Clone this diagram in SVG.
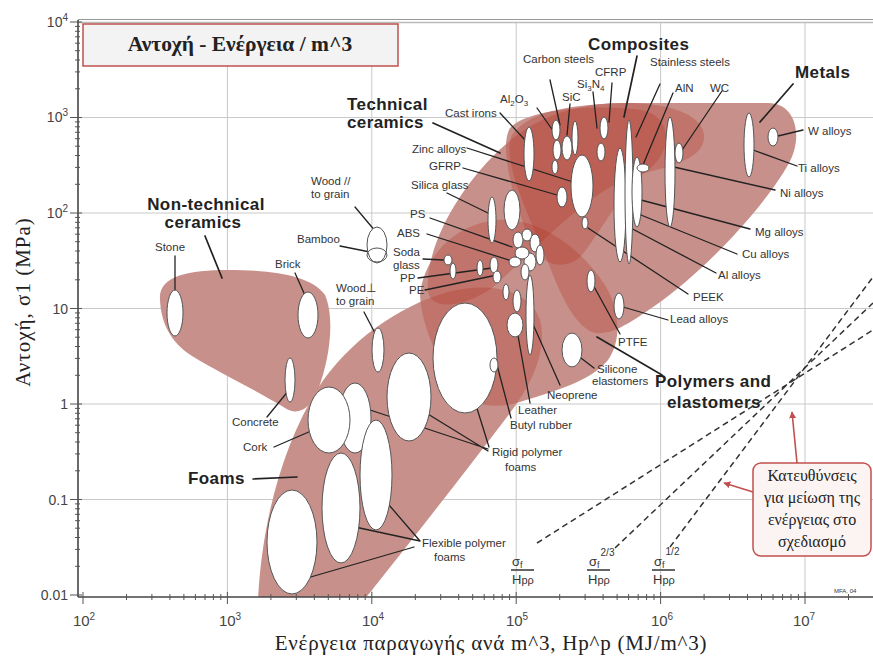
<svg xmlns="http://www.w3.org/2000/svg" width="873" height="657" viewBox="0 0 873 657">
<style>
  .grid{stroke:#c9c9c9;stroke-width:1;fill:none}
  .axis{stroke:#444;stroke-width:1.6;fill:none}
  .tick{stroke:#555;stroke-width:1;fill:none}
  .tl{font-family:"Liberation Sans",Arial,sans-serif;font-size:14px;fill:#444}
  .tx{font-family:"Liberation Sans",Arial,sans-serif;font-size:15px;fill:#444}
  .env{fill:#c8908a}
  .ovl{fill:#b03020;fill-opacity:0.29}
  .bub{fill:#fff;stroke:#555;stroke-width:1}
  .ld{stroke:#222;stroke-width:1.3;fill:none;stroke-linecap:round}
  .ldb{stroke:#222;stroke-width:1.7;fill:none;stroke-linecap:round}
  .lb{font-family:"Liberation Sans",Arial,sans-serif;font-size:11.5px;fill:#333}
  .tiny{font-family:"Liberation Sans",Arial,sans-serif;font-size:6px;fill:#333}
  .cat{font-family:"Liberation Sans",Arial,sans-serif;font-size:17px;font-weight:bold;letter-spacing:0.4px;fill:#222}
  .gr{font-family:"Liberation Serif","Times New Roman",serif;fill:#222}
  .dash{stroke:#333;stroke-width:1.5;stroke-dasharray:6 4;fill:none}
  .frac{font-family:"Liberation Sans",Arial,sans-serif;font-size:13px;fill:#333}
  .call{stroke:#c0504d;stroke-width:1.6;fill:none}
</style>
<defs>
  <clipPath id="plot"><rect x="78" y="20" width="795" height="577"/></clipPath>
  <path id="envNTC" d="M160,300 C158,276 188,270 228,270 C275,270 312,276 325,295 C335,318 330,358 318,390 C310,410 297,416 285,408 C256,390 218,372 192,356 C170,342 161,322 160,300 Z"/>
  <path id="envF" d="M258,600 C262,520 283,445 318,388 C348,342 398,306 448,292 C490,281 530,290 540,320 C548,350 532,385 507,417 C462,476 412,540 364,600 Z"/>
  <path id="envP" d="M420,295 C424,256 455,224 497,220 C542,217 582,250 605,285 C620,310 622,340 608,360 C590,382 552,392 520,402 C494,410 470,406 455,386 C440,362 422,330 420,295 Z"/>
  <path id="envTC" d="M428,292 C424,250 458,186 505,145 C535,118 572,104 620,103 C662,102 702,112 704,135 C706,158 672,166 640,174 C590,188 535,250 492,288 C466,306 432,312 428,292 Z"/>
  <path id="envM" d="M512,135 C530,110 575,103 640,103 L768,103 C797,103 803,138 789,163 C766,205 706,270 656,305 C630,323 612,335 596,333 C578,330 562,300 548,262 C532,222 500,160 512,135 Z"/>
  <path id="envCO" d="M510,128 C528,108 598,104 642,110 C672,117 674,150 648,170 C622,190 602,230 582,255 C566,272 540,266 530,242 C515,203 498,148 510,128 Z"/>
  <clipPath id="cF"><use href="#envF"/></clipPath>
  <clipPath id="cFP"><use href="#envF"/><use href="#envP"/></clipPath>
  <clipPath id="cFPT"><use href="#envF"/><use href="#envP"/><use href="#envTC"/></clipPath>
  <clipPath id="cFPTM"><use href="#envF"/><use href="#envP"/><use href="#envTC"/><use href="#envM"/></clipPath>
  <marker id="arr" viewBox="0 0 10 10" refX="9" refY="5" markerWidth="7" markerHeight="7" orient="auto-start-reverse" markerUnits="userSpaceOnUse">
    <path d="M0,0 L10,5 L0,10 Z" fill="#c0504d"/>
  </marker>
</defs>

<rect width="873" height="657" fill="#fff"/>

<!-- grid -->
<g id="grid">
  <path class="grid" d="M227.4,22 V596 M371.8,22 V596 M516.2,22 V596 M660.6,22 V596 M805,22 V596"/>
  <path class="grid" d="M78,117.5 H873 M78,213 H873 M78,308.5 H873 M78,404 H873 M78,499.5 H873"/>
  <line x1="78" y1="19.5" x2="873" y2="19.5" stroke="#999" stroke-width="1"/>
  <line x1="78" y1="22.5" x2="873" y2="22.5" stroke="#bbb" stroke-width="1.5"/>
</g>

<!-- material envelopes -->
<g id="envelopes" clip-path="url(#plot)">
  <use href="#envNTC" class="env"/>
  <use href="#envF" class="env"/>
  <use href="#envP" class="env"/>
  <use href="#envTC" class="env"/>
  <use href="#envM" class="env"/>
  <use href="#envCO" class="env"/>
  <use href="#envP" class="ovl" clip-path="url(#cF)"/>
  <use href="#envTC" class="ovl" clip-path="url(#cFP)"/>
  <use href="#envM" class="ovl" clip-path="url(#cFPT)"/>
  <use href="#envCO" class="ovl" clip-path="url(#cFPTM)"/>
</g>

<!-- design guide lines -->
<g id="guides">
  <line class="dash" x1="537" y1="543" x2="873" y2="330"/>
  <line class="dash" x1="615" y1="548" x2="873" y2="303"/>
  <line class="dash" x1="670" y1="547" x2="873" y2="277"/>
</g>

<!-- connectors -->
<g id="connectors">
  <path class="ld" d="M175,256 L175,295"/>
  <path class="ldb" d="M205,236 L222,278"/>
  <path class="ld" d="M295,273 L308,302"/>
  <path class="ld" d="M355,207 L376,232"/>
  <path class="ld" d="M340,246 L370,252"/>
  <path class="ld" d="M364,312 L376,335"/>
  <path class="ld" d="M267,417 L289,390"/>
  <path class="ld" d="M274,447 L318,428"/>
  <path class="ldb" d="M253,479 L297,477"/>
  <path class="ld" d="M420,541 L355,527 M420,541 L383,498 M414,547 L290,583"/>
  <path class="ld" d="M488,449 L367,409 M488,451 L423,411 M489,447 L475,402"/>
  <path class="ld" d="M511,418 L497,365"/>
  <path class="ld" d="M530,403 L517,330"/>
  <path class="ld" d="M560,385 L532,322"/>
  <path class="ld" d="M594,368 L577,355"/>
  <path class="ldb" d="M662,375 L597,337"/>
  <path class="ld" d="M620,334 L592,283"/>
  <path class="ld" d="M668,320 L623,307"/>
  <path class="ld" d="M688,294 L588,228"/>
  <path class="ld" d="M716,273 L625,225"/>
  <path class="ld" d="M737,254 L636,213"/>
  <path class="ld" d="M750,229 L641,200"/>
  <path class="ld" d="M775,190 L674,167"/>
  <path class="ld" d="M797,166 L753,150"/>
  <path class="ld" d="M803,130 L778,136"/>
  <path class="ldb" d="M793,84 L760,122"/>
  <path class="ld" d="M722,91 L682,150"/>
  <path class="ld" d="M673,93 L643,165"/>
  <path class="ld" d="M660,84 L636,137"/>
  <path class="ldb" d="M637,56 L624,117"/>
  <path class="ld" d="M612,83 L609,122"/>
  <path class="ld" d="M593,92 L597,128"/>
  <path class="ld" d="M570,104 L567,135"/>
  <path class="ld" d="M550,80 L560,125"/>
  <path class="ld" d="M537,108 L556,135"/>
  <path class="ld" d="M500,113 L525,140"/>
  <path class="ldb" d="M433,123 L500,153"/>
  <path class="ld" d="M467,148 L573,182"/>
  <path class="ld" d="M463,168 L557,195"/>
  <path class="ld" d="M447,193 L490,214"/>
  <path class="ld" d="M430,218 L512,247"/>
  <path class="ld" d="M427,234 L515,262"/>
  <path class="ld" d="M423,259 L444,260"/>
  <path class="ld" d="M418,278 L492,268"/>
  <path class="ld" d="M425,290 L497,275"/>
</g>

<!-- non-technical ceramics -->
<g id="ntc">
  <ellipse class="bub" cx="175" cy="313" rx="8" ry="23"/>
  <ellipse class="bub" cx="308" cy="315" rx="10" ry="23"/>
  <ellipse class="bub" cx="290" cy="380" rx="5" ry="22"/>
</g>

<!-- woods -->
<g id="woods">
  <ellipse class="bub" cx="377" cy="245" rx="10" ry="18"/>
  <ellipse cx="377" cy="255" rx="10" ry="7" fill="none" stroke="#555" stroke-width="1"/>
  <ellipse class="bub" cx="378" cy="350" rx="6" ry="22"/>
</g>

<!-- foams -->
<g id="foams">
  <ellipse class="bub" cx="355" cy="418" rx="16" ry="35"/>
  <ellipse class="bub" cx="329" cy="420" rx="21" ry="33"/>
  <ellipse class="bub" cx="292" cy="542" rx="25" ry="52"/>
  <ellipse class="bub" cx="341" cy="508" rx="19" ry="55"/>
  <ellipse class="bub" cx="376" cy="475" rx="16" ry="55"/>
  <ellipse class="bub" cx="409" cy="397" rx="22" ry="44"/>
  <ellipse class="bub" cx="465" cy="358" rx="32" ry="55"/>
  <ellipse class="bub" cx="494" cy="365" rx="4" ry="7"/>
</g>

<!-- polymers and elastomers -->
<g id="polymers">
  <ellipse class="bub" cx="530" cy="315" rx="4" ry="40"/>
  <ellipse class="bub" cx="506" cy="292" rx="3" ry="8"/>
  <ellipse class="bub" cx="517" cy="301" rx="4" ry="11"/>
  <ellipse class="bub" cx="515" cy="325" rx="8" ry="12"/>
  <ellipse class="bub" cx="572" cy="350" rx="10" ry="17"/>
  <ellipse class="bub" cx="591" cy="281" rx="4" ry="11"/>
  <ellipse class="bub" cx="448" cy="260" rx="4" ry="5"/>
  <ellipse class="bub" cx="453" cy="271" rx="3" ry="8"/>
  <ellipse class="bub" cx="480" cy="268" rx="3" ry="8"/>
  <ellipse class="bub" cx="494" cy="265" rx="4" ry="8"/>
  <ellipse class="bub" cx="497" cy="277" rx="4" ry="6"/>
  <ellipse class="bub" cx="492" cy="220" rx="4" ry="23"/>
  <ellipse class="bub" cx="512" cy="210" rx="8" ry="20"/>
  <ellipse class="bub" cx="530" cy="262" rx="6" ry="9"/>
  <ellipse class="bub" cx="525" cy="272" rx="4" ry="8"/>
  <ellipse class="bub" cx="518" cy="240" rx="5" ry="8"/>
  <ellipse class="bub" cx="527" cy="235" rx="5" ry="6"/>
  <ellipse class="bub" cx="535" cy="243" rx="5" ry="9"/>
  <ellipse class="bub" cx="522" cy="253" rx="7" ry="6"/>
  <ellipse class="bub" cx="540" cy="255" rx="4" ry="10"/>
  <ellipse class="bub" cx="515" cy="262" rx="6" ry="5"/>
</g>

<!-- metals, technical ceramics and composites -->
<g id="metals-ceramics">
  <ellipse class="bub" cx="529" cy="154" rx="5" ry="27"/>
  <ellipse class="bub" cx="582" cy="186" rx="11" ry="31"/>
  <ellipse class="bub" cx="556" cy="130" rx="4" ry="10"/>
  <ellipse class="bub" cx="557" cy="150" rx="4" ry="10"/>
  <ellipse class="bub" cx="555" cy="167" rx="3" ry="7"/>
  <ellipse class="bub" cx="567" cy="148" rx="5" ry="12"/>
  <ellipse class="bub" cx="575" cy="138" rx="3" ry="17"/>
  <ellipse class="bub" cx="601" cy="152" rx="4" ry="9"/>
  <ellipse class="bub" cx="604" cy="128" rx="4" ry="11"/>
  <ellipse class="bub" cx="562" cy="197" rx="5" ry="10"/>
  <ellipse class="bub" cx="585" cy="223" rx="3" ry="6"/>
  <ellipse class="bub" cx="620" cy="205" rx="6" ry="57"/>
  <ellipse class="bub" cx="629" cy="192" rx="4" ry="72"/>
  <ellipse class="bub" cx="637" cy="192" rx="5" ry="35"/>
  <ellipse class="bub" cx="643" cy="168" rx="6" ry="4"/>
  <ellipse class="bub" cx="670" cy="172" rx="5" ry="55"/>
  <ellipse class="bub" cx="679" cy="153" rx="4" ry="10"/>
  <ellipse class="bub" cx="749" cy="145" rx="5" ry="32"/>
  <ellipse class="bub" cx="773" cy="137" rx="5" ry="9"/>
  <ellipse class="bub" cx="619" cy="306" rx="5" ry="13"/>
</g>

<!-- axes -->
<g id="axes">
  <line class="axis" x1="78" y1="20" x2="78" y2="597"/>
  <line class="axis" x1="78" y1="597" x2="873" y2="597"/>
  <path class="tick" d="M70,22 H82 M70,117.5 H82 M70,213 H82 M70,308.5 H82 M70,404 H82 M70,499.5 H82 M70,595 H82"/>
  <path class="tick" d="M75,566.3 H80 M75,549.4 H80 M75,537.5 H80 M75,528.2 H80 M75,520.7 H80 M75,514.3 H80 M75,508.8 H80 M75,503.9 H80
   M75,470.8 H80 M75,453.9 H80 M75,442 H80 M75,432.7 H80 M75,425.2 H80 M75,418.8 H80 M75,413.3 H80 M75,408.4 H80
   M75,375.3 H80 M75,358.4 H80 M75,346.5 H80 M75,337.2 H80 M75,329.7 H80 M75,323.3 H80 M75,317.8 H80 M75,312.9 H80
   M75,279.8 H80 M75,262.9 H80 M75,251 H80 M75,241.7 H80 M75,234.2 H80 M75,227.8 H80 M75,222.3 H80 M75,217.4 H80
   M75,184.3 H80 M75,167.4 H80 M75,155.5 H80 M75,146.2 H80 M75,138.7 H80 M75,132.3 H80 M75,126.8 H80 M75,121.9 H80
   M75,88.8 H80 M75,71.9 H80 M75,60 H80 M75,50.7 H80 M75,43.2 H80 M75,36.8 H80 M75,31.3 H80 M75,26.4 H80"/>
  <path class="tick" d="M83,592 V604 M227.4,592 V604 M371.8,592 V604 M516.2,592 V604 M660.6,592 V604 M805,592 V604"/>
  <path class="tick" d="M126.5,594 V600 M151.9,594 V600 M169.9,594 V600 M183.9,594 V600 M195.4,594 V600 M205,594 V600 M213.4,594 V600 M220.8,594 V600
   M270.9,594 V600 M296.3,594 V600 M314.3,594 V600 M328.3,594 V600 M339.8,594 V600 M349.4,594 V600 M357.8,594 V600 M365.2,594 V600
   M415.3,594 V600 M440.7,594 V600 M458.7,594 V600 M472.7,594 V600 M484.2,594 V600 M493.8,594 V600 M502.2,594 V600 M509.6,594 V600
   M559.7,594 V600 M585.1,594 V600 M603.1,594 V600 M617.1,594 V600 M628.6,594 V600 M638.2,594 V600 M646.6,594 V600 M654,594 V600
   M704.1,594 V600 M729.5,594 V600 M747.5,594 V600 M761.5,594 V600 M773,594 V600 M782.6,594 V600 M791,594 V600 M798.4,594 V600
   M848.5,594 V600"/>
  <text class="tl" x="68" y="27" text-anchor="end">10<tspan font-size="10" dy="-6">4</tspan></text>
  <text class="tl" x="68" y="122" text-anchor="end">10<tspan font-size="10" dy="-6">3</tspan></text>
  <text class="tl" x="68" y="218" text-anchor="end">10<tspan font-size="10" dy="-6">2</tspan></text>
  <text class="tl" x="68" y="314" text-anchor="end">10</text>
  <text class="tl" x="68" y="409" text-anchor="end">1</text>
  <text class="tl" x="68" y="505" text-anchor="end">0.1</text>
  <text class="tl" x="68" y="600" text-anchor="end">0.01</text>
  <text class="tx" x="84" y="626" text-anchor="middle">10<tspan font-size="10" dy="-6">2</tspan></text>
  <text class="tx" x="230" y="626" text-anchor="middle">10<tspan font-size="10" dy="-6">3</tspan></text>
  <text class="tx" x="373" y="626" text-anchor="middle">10<tspan font-size="10" dy="-6">4</tspan></text>
  <text class="tx" x="517" y="626" text-anchor="middle">10<tspan font-size="10" dy="-6">5</tspan></text>
  <text class="tx" x="662" y="626" text-anchor="middle">10<tspan font-size="10" dy="-6">6</tspan></text>
  <text class="tx" x="804" y="626" text-anchor="middle">10<tspan font-size="10" dy="-6">7</tspan></text>
  <text class="gr" x="491" y="650" text-anchor="middle" font-size="21" letter-spacing="0.8">Ενέργεια παραγωγής ανά m^3, Hp^p (MJ/m^3)</text>
  <text class="gr" transform="translate(30,302) rotate(-90)" text-anchor="middle" font-size="21" letter-spacing="1">Αντοχή, σ1 (MPa)</text>
</g>

<!-- title -->
<g id="title">
  <rect x="83" y="24" width="315" height="42" fill="#f3f3f3" stroke="#c0504d" stroke-width="1.5"/>
  <text class="gr" x="240" y="51" text-anchor="middle" font-size="21.5" font-weight="bold">Αντοχή - Ενέργεια / m^3</text>
</g>

<!-- family labels -->
<g id="family-labels">
  <text class="cat" x="206" y="210" text-anchor="middle">Non-technical</text>
  <text class="cat" x="203" y="228" text-anchor="middle">ceramics</text>
  <text class="cat" x="347" y="110">Technical</text>
  <text class="cat" x="347" y="128">ceramics</text>
  <text class="cat" x="588" y="50">Composites</text>
  <text class="cat" x="795" y="78">Metals</text>
  <text class="cat" x="188" y="484">Foams</text>
  <text class="cat" x="655" y="387">Polymers and</text>
  <text class="cat" x="667" y="408">elastomers</text>
</g>

<!-- material labels -->
<g id="material-labels">
  <text class="lb" x="155" y="251">Stone</text>
  <text class="lb" x="275" y="268">Brick</text>
  <text class="lb" x="297" y="243">Bamboo</text>
  <text class="lb" x="311" y="185">Wood //</text>
  <text class="lb" x="311" y="198">to grain</text>
  <text class="lb" x="336" y="292">Wood⊥</text>
  <text class="lb" x="336" y="305">to grain</text>
  <text class="lb" x="410" y="218">PS</text>
  <text class="lb" x="397" y="237">ABS</text>
  <text class="lb" x="393" y="256">Soda</text>
  <text class="lb" x="393" y="269">glass</text>
  <text class="lb" x="400" y="282">PP</text>
  <text class="lb" x="409" y="294">PE</text>
  <text class="lb" x="412" y="153">Zinc alloys</text>
  <text class="lb" x="429" y="170">GFRP</text>
  <text class="lb" x="411" y="189">Silica glass</text>
  <text class="lb" x="445" y="117">Cast irons</text>
  <text class="lb" x="500" y="103">Al<tspan font-size="8" dy="3">2</tspan><tspan dy="-3">O</tspan><tspan font-size="8" dy="3">3</tspan></text>
  <text class="lb" x="562" y="101">SiC</text>
  <text class="lb" x="577" y="88">Si<tspan font-size="8" dy="3">3</tspan><tspan dy="-3">N</tspan><tspan font-size="8" dy="3">4</tspan></text>
  <text class="lb" x="595" y="76">CFRP</text>
  <text class="lb" x="523" y="63">Carbon steels</text>
  <text class="lb" x="650" y="66">Stainless steels</text>
  <text class="lb" x="675" y="92">AlN</text>
  <text class="lb" x="710" y="92">WC</text>
  <text class="lb" x="808" y="135">W alloys</text>
  <text class="lb" x="798" y="172">Ti alloys</text>
  <text class="lb" x="780" y="197">Ni alloys</text>
  <text class="lb" x="755" y="236">Mg alloys</text>
  <text class="lb" x="742" y="258">Cu alloys</text>
  <text class="lb" x="718" y="279">Al alloys</text>
  <text class="lb" x="693" y="301">PEEK</text>
  <text class="lb" x="670" y="323">Lead alloys</text>
  <text class="lb" x="618" y="346">PTFE</text>
  <text class="lb" x="597" y="373">Silicone</text>
  <text class="lb" x="592" y="385">elastomers</text>
  <text class="lb" x="547" y="399">Neoprene</text>
  <text class="lb" x="518" y="414">Leather</text>
  <text class="lb" x="510" y="429">Butyl rubber</text>
  <text class="lb" x="492" y="456">Rigid polymer</text>
  <text class="lb" x="505" y="471">foams</text>
  <text class="lb" x="232" y="426">Concrete</text>
  <text class="lb" x="243" y="451">Cork</text>
  <text class="lb" x="422" y="547">Flexible polymer</text>
  <text class="lb" x="434" y="561">foams</text>
  <text class="tiny" x="834" y="593">MFA, 04</text>
</g>

<!-- index labels for guide lines -->
<g id="indices">
  <text class="frac" x="512" y="566">σ<tspan font-size="9" dy="2">f</tspan></text>
  <line x1="511" y1="570" x2="534" y2="570" stroke="#333" stroke-width="1.5"/>
  <text class="frac" x="512" y="584">H<tspan font-size="11">pρ</tspan></text>
  <text class="frac" x="589" y="566">σ<tspan font-size="9" dy="2">f</tspan><tspan font-size="10" dx="1" dy="-12">2/3</tspan></text>
  <line x1="587" y1="570" x2="610" y2="570" stroke="#333" stroke-width="1.5"/>
  <text class="frac" x="588" y="584">H<tspan font-size="11">pρ</tspan></text>
  <text class="frac" x="654" y="566">σ<tspan font-size="9" dy="2">f</tspan><tspan font-size="10" dx="1" dy="-13">1/2</tspan></text>
  <line x1="652" y1="570" x2="675" y2="570" stroke="#333" stroke-width="1.5"/>
  <text class="frac" x="653" y="584">H<tspan font-size="11">pρ</tspan></text>
</g>

<!-- note box with arrows -->
<g id="note">
  <path class="call" d="M797,463 L792,412" marker-end="url(#arr)"/>
  <path class="call" d="M753,492 L724,483" marker-end="url(#arr)"/>
  <rect x="753" y="463" width="118" height="93" rx="8" fill="#fbf4f3" stroke="#c0504d" stroke-width="1.5"/>
  <text class="gr" x="812" y="481" text-anchor="middle" font-size="16" fill="#333">Κατευθύνσεις</text>
  <text class="gr" x="812" y="503" text-anchor="middle" font-size="16" fill="#333">για μείωση της</text>
  <text class="gr" x="812" y="525" text-anchor="middle" font-size="16" fill="#333">ενέργειας στο</text>
  <text class="gr" x="812" y="547" text-anchor="middle" font-size="16" fill="#333">σχεδιασμό</text>
</g>
</svg>
